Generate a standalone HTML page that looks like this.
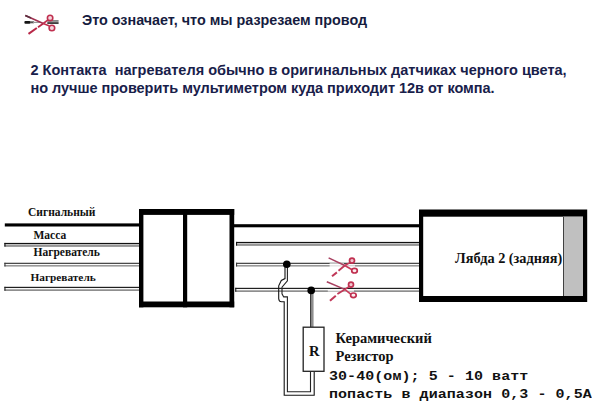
<!DOCTYPE html>
<html><head><meta charset="utf-8">
<style>
html,body{margin:0;padding:0;background:#fff;width:600px;height:405px;overflow:hidden;position:relative}
.t{position:absolute;white-space:nowrap;line-height:1}
.s{font-family:"Liberation Sans",sans-serif;font-weight:bold}
.r{font-family:"Liberation Serif",serif;font-weight:bold;color:#111}
.m{font-family:"Liberation Mono",monospace;font-weight:bold;color:#111}
svg{position:absolute;left:0;top:0}
</style></head><body>
<svg width="600" height="405" viewBox="0 0 600 405">
<g id="sc1">
    <rect x="24.4" y="21" width="6" height="2.8" rx="1" fill="#151515"/>
    <rect x="30" y="21.3" width="4" height="2" fill="#555"/>
    <rect x="33" y="21.8" width="7" height="1.2" fill="#999"/>
    <rect x="47.3" y="20.3" width="11.3" height="1.3" fill="#555"/>
    <rect x="47.3" y="22.3" width="11.3" height="1.5" fill="#111"/>
    <line x1="25.3" y1="15.5" x2="43.3" y2="23.5" stroke="#a03050" stroke-width="1.5"/>
    <line x1="25.3" y1="15.5" x2="31" y2="18" stroke="#5a3040" stroke-width="1.5"/>
    <line x1="28.5" y1="33.9" x2="36.8" y2="28" stroke="#b82848" stroke-width="2"/>
    <line x1="38" y1="27.2" x2="43.3" y2="23.5" stroke="#b82848" stroke-width="1.8"/>
    <line x1="43.3" y1="23.5" x2="48" y2="19.8" stroke="#c03050" stroke-width="1.6"/>
    <line x1="43.3" y1="23.5" x2="49.5" y2="26" stroke="#c03050" stroke-width="1.6"/>
    <circle cx="50.1" cy="17.9" r="2.7" fill="#f4d8de" stroke="#c03050" stroke-width="1.6"/>
    <circle cx="51.9" cy="28" r="2.8" fill="#f4d8de" stroke="#c03050" stroke-width="1.6"/>
  </g>
<rect x="4.8" y="223.4" width="135" height="3.1" fill="#000"/>
<rect x="4.4" y="242.9" width="135" height="1.2" fill="#111"/><rect x="4.4" y="244.1" width="135" height="1.3" fill="#bdbdbd"/><rect x="4.4" y="245.4" width="135" height="1.2" fill="#606060"/><rect x="4.4" y="242.9" width="1.1" height="3.7" fill="#111"/>
<rect x="4.4" y="262.75" width="135" height="1.2" fill="#383838"/><rect x="4.4" y="263.95" width="135" height="1.3" fill="#fafafa"/><rect x="4.4" y="265.25" width="135" height="1.2" fill="#787878"/><rect x="4.4" y="262.75" width="1.1" height="3.7" fill="#383838"/>
<rect x="4.4" y="286.8" width="135" height="1.2" fill="#202020"/><rect x="4.4" y="288.0" width="135" height="1.5" fill="#fafafa"/><rect x="4.4" y="289.5" width="135" height="1.2" fill="#606060"/><rect x="4.4" y="286.8" width="1.1" height="3.9" fill="#202020"/>
<rect x="234" y="224.2" width="186" height="3.1" fill="#000"/>
<rect x="236" y="241.9" width="184" height="1.2" fill="#111"/><rect x="236" y="243.1" width="184" height="1.3" fill="#bdbdbd"/><rect x="236" y="244.4" width="184" height="1.2" fill="#606060"/><rect x="236" y="241.9" width="1.1" height="3.7" fill="#111"/>
<rect x="236" y="262.75" width="184" height="1.2" fill="#383838"/><rect x="236" y="263.95" width="184" height="1.3" fill="#fafafa"/><rect x="236" y="265.25" width="184" height="1.2" fill="#787878"/><rect x="236" y="262.75" width="1.1" height="3.7" fill="#383838"/>
<rect x="235.2" y="287.8" width="185" height="1.2" fill="#202020"/><rect x="235.2" y="289.0" width="185" height="1.5" fill="#fafafa"/><rect x="235.2" y="290.5" width="185" height="1.2" fill="#606060"/><rect x="235.2" y="287.8" width="1.1" height="3.9" fill="#202020"/>
<rect x="139" y="209" width="95.2" height="5.9" fill="#000"/>
<rect x="139" y="301.5" width="95.2" height="5.8" fill="#000"/>
<rect x="139" y="209" width="4.4" height="98.3" fill="#000"/>
<rect x="229.5" y="209" width="4.7" height="98.3" fill="#000"/>
<rect x="183" y="209" width="4.2" height="98.3" fill="#000"/>
<rect x="419" y="209.5" width="168.2" height="92.5" fill="#000"/>
<rect x="423.2" y="216.7" width="159.8" height="79.3" fill="#fff"/>
<rect x="563" y="216.7" width="20" height="79.3" fill="#c0c0c0"/>
<rect x="563" y="216.7" width="0.9" height="79.3" fill="#333"/>
<rect x="310.2" y="290" width="1.3" height="37" fill="#111"/>
<rect x="312.3" y="290" width="1.1" height="37" fill="#606060"/>
<path d="M285 267 V278.6 L281.3 280.5 L278.7 285.8 V298.7 Q279 301.8 281.5 301.8 H284.2 V395.3 H314.2 V371.5" fill="none" stroke="#151515" stroke-width="1.1"/>
<path d="M287.4 267 V280.8 L282 287.2 V293.8 L283.7 296.9 H287.4 V391.7 H310.5 V371.5" fill="none" stroke="#222" stroke-width="1.1"/>
<rect x="303.2" y="327.2" width="20.8" height="44.1" fill="#fff" stroke="#222" stroke-width="1.3"/>
<circle cx="286.8" cy="264.3" r="3.8" fill="#000"/>
<circle cx="311.2" cy="290.4" r="3.8" fill="#000"/>
<rect x="343" y="265.3" width="12" height="1.6" fill="#fff" opacity="0.8"/>
<g>
    <rect x="329.6" y="263.1" width="14.399999999999977" height="4.6" fill="#fff" opacity="0.75"/>
    <line x1="328.6" y1="257.9" x2="344.8" y2="265.5" stroke="#a84060" stroke-width="1.5"/>
    <line x1="332" y1="276.2" x2="336.9" y2="272.4" stroke="#c03858" stroke-width="2"/>
    <line x1="338.5" y1="270.79999999999995" x2="344.8" y2="265.5" stroke="#c03858" stroke-width="1.8"/>
    <line x1="344.8" y1="265.5" x2="350" y2="262.6" stroke="#c83a5a" stroke-width="1.6"/>
    <line x1="344.8" y1="265.5" x2="352.1" y2="269.7" stroke="#c83a5a" stroke-width="1.6"/>
    <circle cx="352" cy="260.6" r="2.5" fill="#f0c8d0" stroke="#c03050" stroke-width="1.7"/>
    <ellipse cx="354.5" cy="270.7" rx="2.8" ry="2.3" fill="#fbeef0" stroke="#c03050" stroke-width="1.7"/>
  </g>
<g>
    <rect x="327.8" y="289.2" width="26.19999999999999" height="2.3999999999999995" fill="#fff" opacity="0.75"/>
    <line x1="326.8" y1="281.8" x2="344.8" y2="289.4" stroke="#a84060" stroke-width="1.5"/>
    <line x1="330" y1="300.8" x2="335.8" y2="295.7" stroke="#c03858" stroke-width="2"/>
    <line x1="337.40000000000003" y1="294.09999999999997" x2="344.8" y2="289.4" stroke="#c03858" stroke-width="1.8"/>
    <line x1="344.8" y1="289.4" x2="349" y2="286.6" stroke="#c83a5a" stroke-width="1.6"/>
    <line x1="344.8" y1="289.4" x2="351.0" y2="294.3" stroke="#c83a5a" stroke-width="1.6"/>
    <circle cx="351" cy="284.6" r="2.5" fill="#f0c8d0" stroke="#c03050" stroke-width="1.7"/>
    <ellipse cx="353.4" cy="295.3" rx="2.8" ry="2.3" fill="#fbeef0" stroke="#c03050" stroke-width="1.7"/>
  </g>
</svg>
<div class="t s" style="left:82px;top:12.6px;font-size:14.35px;color:#161c40">Это означает, что мы разрезаем провод</div>
<div class="t s" style="left:30.5px;top:62.6px;font-size:14.5px;color:#18204a">2 Контакта&nbsp; нагревателя обычно в оригинальных датчиках черного цвета,</div>
<div class="t s" style="left:30.5px;top:80.6px;font-size:14.5px;color:#18204a;letter-spacing:-0.035px">но лучше проверить мультиметром куда приходит 12в от компа.</div>

<div class="t r" style="left:28px;top:207px;font-size:11.5px">Сигнальный</div>
<div class="t r" style="left:33.5px;top:230.2px;font-size:11.5px">Масса</div>
<div class="t r" style="left:33.5px;top:247.3px;font-size:11.5px">Нагреватель</div>
<div class="t r" style="left:30.5px;top:272px;font-size:11.3px">Нагреватель</div>

<div class="t r" style="left:455px;top:251px;font-size:14.3px">Лябда 2 (задняя)</div>
<div class="t r" style="left:309px;top:343.8px;font-size:14.6px">R</div>

<div class="t r" style="left:335.5px;top:331.3px;font-size:14.5px">Керамический</div>
<div class="t r" style="left:335.5px;top:348.5px;font-size:14.5px">Резистор</div>
<div class="t m" style="left:329px;top:370.5px;font-size:15px;letter-spacing:0.06px;transform:scaleY(0.86);transform-origin:0 0">30-40(ом); 5 - 10 ватт</div>
<div class="t m" style="left:329px;top:388.5px;font-size:15px;letter-spacing:0.06px;transform:scaleY(0.86);transform-origin:0 0">попасть в диапазон 0,3 - 0,5А</div>
</body></html>
